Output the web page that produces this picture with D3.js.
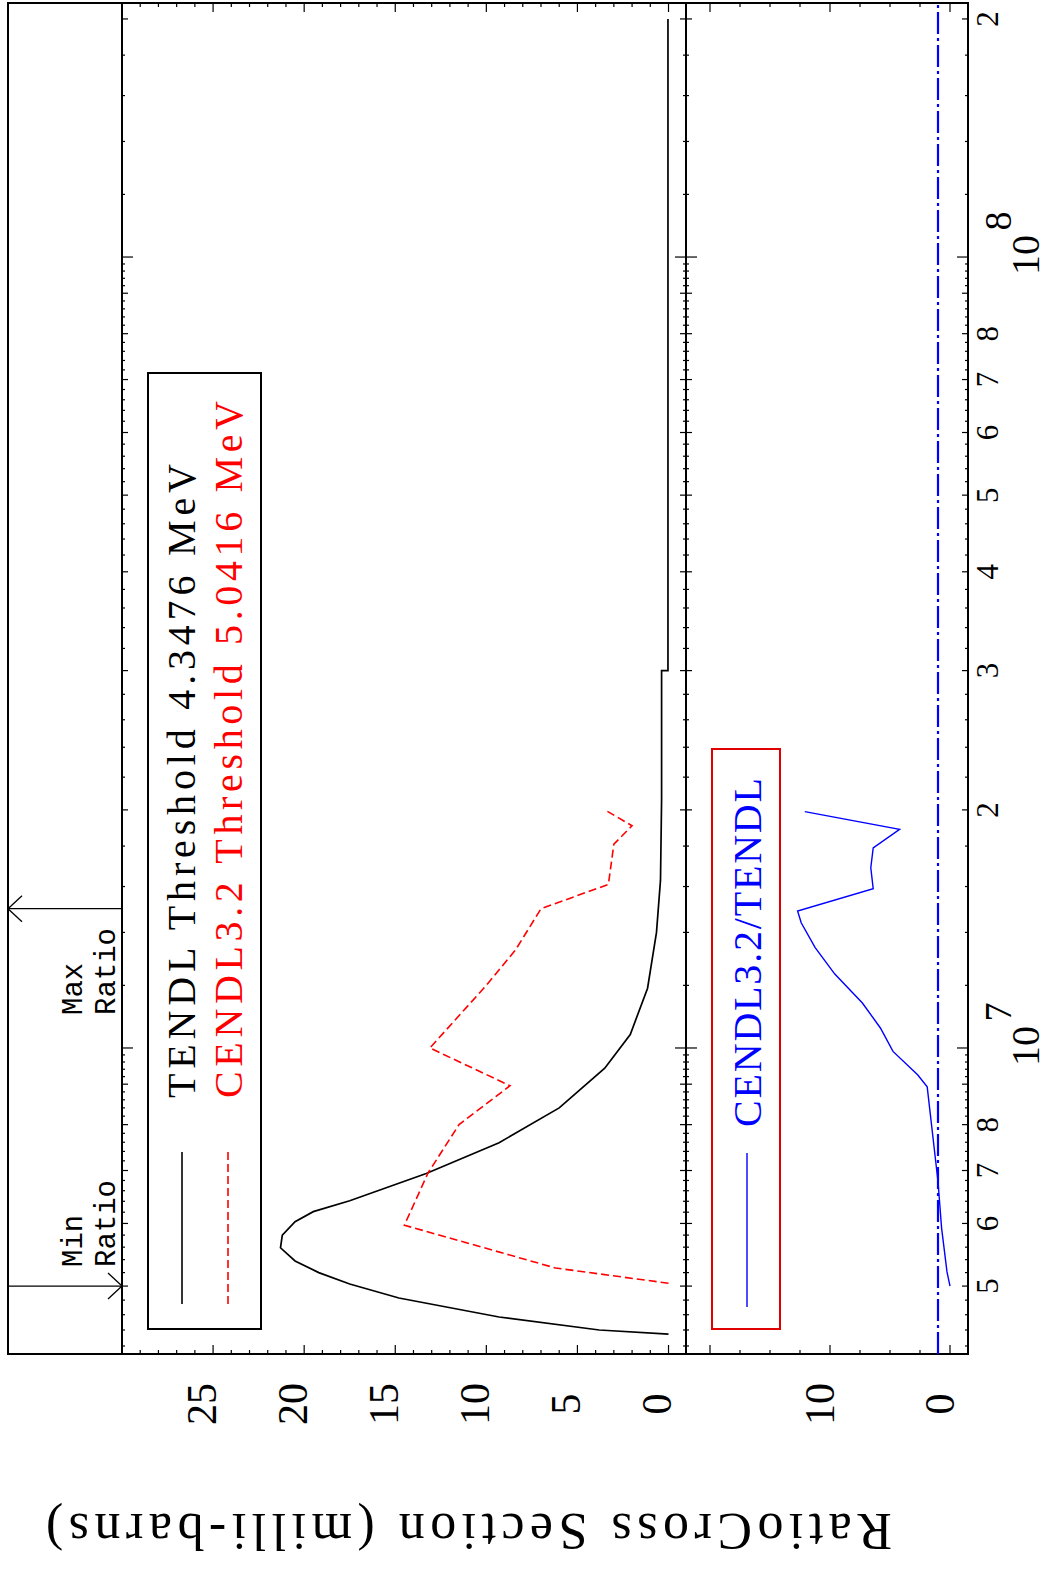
<!DOCTYPE html>
<html>
<head>
<meta charset="utf-8">
<title>TENDL / CENDL3.2</title>
<script src="https://cdn.jsdelivr.net/npm/d3@7"></script>
<style>
body { margin:0; background:#fff; }
text { font-family: "Liberation Serif", serif; }
</style>
</head>
<body>
<script>
var width = 1048, height = 1573;

// incident energy (eV) and cross section (milli-barns)
var tendlE  = [4.3476e6, 4.40e6, 4.57e6, 4.83e6, 5.03e6, 5.20e6, 5.38e6, 5.59e6, 5.80e6, 6.03e6, 6.21e6, 6.41e6, 6.94e6, 7.59e6, 8.40e6, 9.43e6, 1.04e7, 1.19e7, 1.40e7, 1.63e7, 2.06e7, 3.0e7, 3.0e7, 2.0e8];
var tendlXS = [0, 3.8, 9.3, 14.8, 17.5, 19.2, 20.5, 21.3, 21.2, 20.5, 19.5, 17.5, 13.3, 9.3, 6.0, 3.5, 2.1, 1.15, 0.66, 0.44, 0.38, 0.38, 0.03, 0.03];
var cendlE  = [5.0416e6, 5.27e6, 5.97e6, 6.95e6, 8.0e6, 8.96e6, 1.0e7, 1.2e7, 1.33e7, 1.5e7, 1.61e7, 1.81e7, 1.91e7, 2.0e7];
var cendlXS = [0, 6.2, 14.5, 13.2, 11.5, 8.7, 13.1, 10.0, 8.4, 7.0, 3.3, 3.0, 2.0, 3.5];
var ratioE  = [5.0e6, 5.21e6, 5.92e6, 6.78e6, 8.93e6, 9.25e6, 9.9e6, 1.06e7, 1.14e7, 1.24e7, 1.34e7, 1.44e7, 1.49e7, 1.59e7, 1.69e7, 1.79e7, 1.89e7, 1.99e7];
var ratioV  = [0, 0.25, 0.7, 1.0, 1.9, 2.7, 4.75, 5.8, 7.3, 9.6, 11.25, 12.4, 12.7, 6.4, 6.6, 6.4, 4.2, 12.1];

var xsTickLabels = [0, 5, 10, 15, 20, 25];
var ratioTickLabels = [0, 10];
var eLabels = [5e6, 6e6, 7e6, 8e6, 2e7, 3e7, 4e7, 5e7, 6e7, 7e7, 8e7, 2e8];
var eDecades = [1e7, 1e8];
var minRatioE = 5.0e6, maxRatioE = 1.5e7;

var svg = d3.select("body").append("svg").attr("width", width).attr("height", height);

// the plot is turned a quarter turn: energy runs up the page
var ey = d3.scaleLog().domain([4.103e6, 2.095e8]).range([1354, 3]);
var sx = d3.scaleLinear().domain([-0.96, 30]).range([686, 122]);
var rx = d3.scaleLinear().domain([-1.5, 22]).range([968, 686]);

var L = 8, S = 122, M = 686, R = 968, T = 3, B = 1354;

function seg(x1, y1, x2, y2, w, c) {
	return svg.append("line").attr("x1", x1).attr("y1", y1).attr("x2", x2).attr("y2", y2)
		.attr("stroke", c || "#000").attr("stroke-width", w || 1.5);
}

// frame
svg.append("rect").attr("x", L).attr("y", T).attr("width", R - L).attr("height", B - T)
	.attr("fill", "none").attr("stroke", "#000").attr("stroke-width", 2);
seg(S, T, S, B, 2);
seg(M, T, M, B, 2);

// energy ticks
var eTicks = [];
[1e6, 1e7, 1e8].forEach(function(dec) {
	for (var i = 10; i < 100; i += 2) {
		var v = dec * i / 10;
		if (v > 4.103e6 && v < 2.095e8) eTicks.push({v: v, len: i == 10 ? 11 : (i % 10 == 0 ? 6 : 3)});
	}
});
eTicks.forEach(function(t) {
	var y = ey(t.v);
	seg(S, y, S + t.len, y, 1.2);
	seg(M - t.len, y, M + t.len, y, 1.2);
	seg(R - t.len, y, R, y, 1.2);
});

// value ticks
d3.range(0, 30, 1).forEach(function(v) {
	var len = v % 5 == 0 ? 9 : 4, x = sx(v);
	seg(x, B, x, B - len, 1.2);
	seg(x, T, x, T + len, 1.2);
});
d3.range(0, 22, 2.5).forEach(function(v) {
	var len = v % 10 == 0 ? 9 : 4, x = rx(v);
	seg(x, B, x, B - len, 1.2);
	seg(x, T, x, T + len, 1.2);
});

function vtext(x, y, str, size, color, anchor, family, tl) {
	var t = svg.append("text").attr("transform", "translate(" + x + "," + y + ") rotate(-90)")
		.attr("font-size", size).attr("fill", color || "#000")
		.attr("text-anchor", anchor || "middle").text(str);
	if (family) t.style("font-family", family);
	if (tl) t.attr("textLength", tl).attr("lengthAdjust", "spacing");
	return t;
}

// value labels
xsTickLabels.forEach(function(v) { vtext(sx(v) + 2.5, 1404, v, 42); });
ratioTickLabels.forEach(function(v) { vtext(rx(v) + 4, 1404, v, 42); });

// energy labels
eLabels.forEach(function(v) {
	vtext(998, ey(v), String(v / Math.pow(10, Math.floor(Math.log10(v) + 1e-9))), 31);
});
eDecades.forEach(function(v) {
	var y = ey(v);
	vtext(1039, y - 2, "10", 40);
	vtext(1011, y - 36, String(Math.round(Math.log10(v))), 38);
});

// axis title, upside down
svg.append("text").attr("transform", "translate(469,1514) rotate(180)")
	.attr("font-size", 52).attr("text-anchor", "middle")
	.attr("textLength", 846).attr("lengthAdjust", "spacing")
	.text("RatioCross Section (milli-barns)");

// min / max ratio markers
function arrowAt(y, headRight) {
	seg(L, y, S, y, 1.3);
	var hx = headRight ? S : L, d = headRight ? -14 : 14;
	seg(hx, y, hx + d, y - 13, 1.3);
	seg(hx, y, hx + d, y + 13, 1.3);
}
arrowAt(ey(minRatioE), true);
arrowAt(ey(maxRatioE), false);
vtext(82, 1267, "Min", 29, "#000", "start", "Liberation Mono");
vtext(115, 1267, "Ratio", 29, "#000", "start", "Liberation Mono");
vtext(82, 1015, "Max", 29, "#000", "start", "Liberation Mono");
vtext(115, 1015, "Ratio", 29, "#000", "start", "Liberation Mono");

// curves
function pts(es, vs) { return es.map(function(e, i) { return [e, vs[i]]; }); }
var xsLine = d3.line().x(function(d) { return sx(d[1]); }).y(function(d) { return ey(d[0]); });
var rLine = d3.line().x(function(d) { return rx(d[1]); }).y(function(d) { return ey(d[0]); });

svg.append("path").attr("d", xsLine(pts(tendlE, tendlXS)))
	.attr("fill", "none").attr("stroke", "#000").attr("stroke-width", 1.7);
svg.append("path").attr("d", xsLine(pts(cendlE, cendlXS)))
	.attr("fill", "none").attr("stroke", "#ff0000").attr("stroke-width", 1.6).attr("stroke-dasharray", "8,4");

svg.append("line").attr("x1", rx(1)).attr("x2", rx(1)).attr("y1", B).attr("y2", T)
	.attr("stroke", "#0000ff").attr("stroke-width", 2.2).attr("stroke-dasharray", "22,4,3,4");
svg.append("path").attr("d", rLine(pts(ratioE, ratioV)))
	.attr("fill", "none").attr("stroke", "#0000ff").attr("stroke-width", 1.4);

// legends
svg.append("rect").attr("x", 148).attr("y", 373).attr("width", 113).attr("height", 956)
	.attr("fill", "none").attr("stroke", "#000").attr("stroke-width", 2);
seg(182, 1152, 182, 1304, 1.6);
seg(228, 1152, 228, 1304, 1.6, "#ff0000").attr("stroke-dasharray", "8,4");
vtext(195, 1098, "TENDL Threshold 4.3476 MeV", 40, "#000", "start", null, 634);
vtext(242, 1098, "CENDL3.2 Threshold 5.0416 MeV", 40, "#ff0000", "start", null, 697);

svg.append("rect").attr("x", 712).attr("y", 749).attr("width", 68).attr("height", 580)
	.attr("fill", "none").attr("stroke", "#e00000").attr("stroke-width", 2);
seg(747, 1153, 747, 1307, 1.4, "#0000ff");
vtext(761, 1127, "CENDL3.2/TENDL", 40, "#0000ff", "start", null, 349);
</script>
</body>
</html>
